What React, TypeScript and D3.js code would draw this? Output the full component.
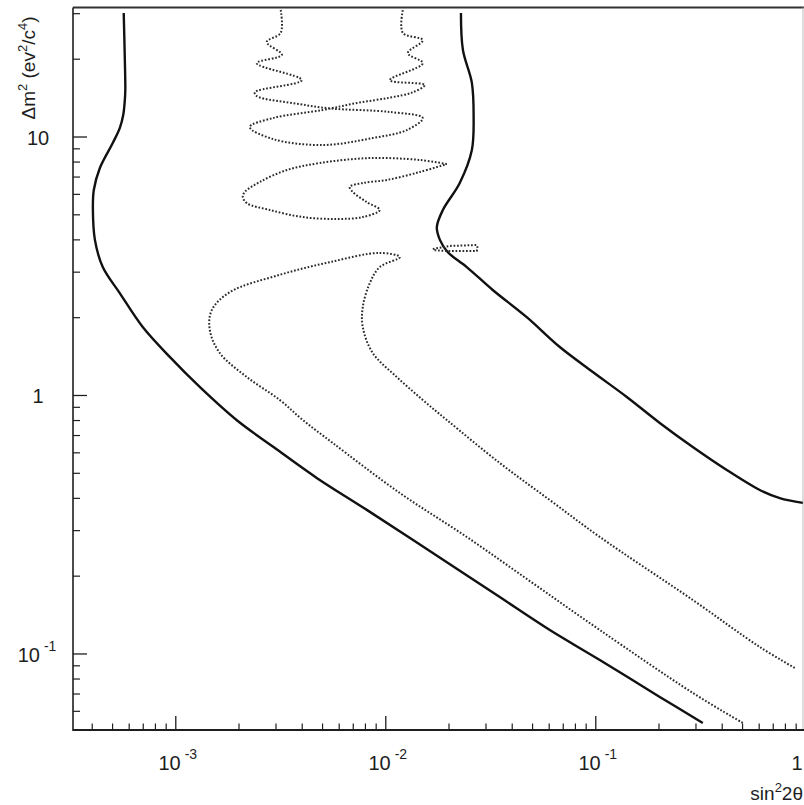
import React from 'react';
import * as d3 from 'd3';

type Pt = [number, number];

// sin^2 2θ (x) versus Δm^2 (y)
const leftSolid: Pt[] = [
  [5.65e-4, 30.2], [5.72e-4, 19.9], [5.75e-4, 15.2], [5.72e-4, 13.9], [5.62e-4, 12.17],
  [5.41e-4, 10.83], [5.01e-4, 9.48], [4.35e-4, 7.59], [4.07e-4, 6.24], [4.03e-4, 5.22],
  [4.12e-4, 4.0], [4.49e-4, 3.14], [5.41e-4, 2.49], [6.96e-4, 1.84], [9.36e-4, 1.41],
  [1.3e-3, 1.079], [1.96e-3, 0.8], [2.92e-3, 0.632], [4.69e-3, 0.48], [8.12e-3, 0.361],
  [1.675e-2, 0.246], [3.49e-2, 0.166], [6.04e-2, 0.1238], [0.1045, 0.0948], [0.2017, 0.0682],
  [0.3232, 0.0541],
];

const rightSolid: Pt[] = [
  [2.28e-2, 30.2], [2.33e-2, 21.7], [2.57e-2, 16.2], [2.62e-2, 11.95], [2.57e-2, 8.91],
  [2.25e-2, 6.64], [1.87e-2, 5.22], [1.75e-2, 4.48], [1.81e-2, 4.0], [1.97e-2, 3.59],
  [2.43e-2, 3.14], [3.23e-2, 2.56], [4.69e-2, 2.01], [6.74e-2, 1.54], [9.68e-2, 1.233],
  [0.1405, 0.987], [0.2017, 0.783], [0.2896, 0.632], [0.4205, 0.515], [0.604, 0.431],
  [0.752, 0.401], [0.968, 0.384],
];

const dottedZigzag: Pt[] = [
  [3.16e-3, 31], [3.16e-3, 25.3], [2.71e-3, 23.3], [3.2e-3, 20.8], [2.43e-3, 19.3],
  [3.98e-3, 16.6], [2.38e-3, 14.9], [2.43e-3, 14.4], [3.9e-3, 13.4], [5.41e-3, 12.9],
  [1.045e-2, 12.5], [1.5e-2, 11.84], [1.26e-2, 10.64], [8.67e-3, 9.91], [5.01e-3, 9.31],
  [2.9e-3, 9.82], [2.25e-3, 10.93], [2.9e-3, 11.84], [5.01e-3, 12.72], [7.28e-3, 13.54],
  [1.045e-2, 14.2], [1.345e-2, 14.9], [1.533e-2, 15.9], [1.045e-2, 16.6], [1.5e-2, 19.3],
  [1.273e-2, 21.1], [1.5e-2, 23.7], [1.205e-2, 25.3], [1.205e-2, 31],
];

const dottedLobe: Pt[] = [
  [1.952e-2, 7.86], [1.452e-2, 8.15], [8.39e-3, 8.29], [4.85e-3, 7.93], [3.378e-3, 7.45],
  [2.512e-3, 6.7], [2.131e-3, 6.13], [2.085e-3, 5.86], [2.178e-3, 5.55], [2.803e-3, 5.22],
  [4.025e-3, 4.9], [5.85e-3, 4.82], [7.77e-3, 4.9], [9.36e-3, 5.22], [8.12e-3, 5.6],
  [6.96e-3, 6.13], [6.74e-3, 6.41], [7.77e-3, 6.64], [1.011e-2, 6.82], [1.452e-2, 7.32],
  [1.952e-2, 7.86],
];

const dottedOuter: Pt[] = [
  [0.501, 0.0541], [0.2896, 0.0707], [0.1045, 0.1238], [5.01e-2, 0.188], [2.43e-2, 0.2836],
  [1.166e-2, 0.4196], [5.59e-3, 0.655], [4.025e-3, 0.804], [3.127e-3, 0.961], [2.178e-3, 1.179],
  [1.62e-3, 1.46], [1.452e-3, 1.792], [1.484e-3, 2.14], [1.807e-3, 2.51], [3.127e-3, 2.93],
  [5.41e-3, 3.28], [9.36e-3, 3.56], [1.166e-2, 3.43], [9.36e-3, 3.14], [8.39e-3, 2.72],
  [7.77e-3, 2.2], [7.77e-3, 1.84], [8.67e-3, 1.46], [1.128e-2, 1.179], [1.5e-2, 0.961],
  [1.952e-2, 0.804], [3.49e-2, 0.548], [6.04e-2, 0.394], [0.1045, 0.2836], [0.2896, 0.1618],
  [0.604, 0.1064], [0.886, 0.0883],
];

const dottedSliver: Pt[] = [
  [1.675e-2, 3.69], [2.017e-2, 3.79], [2.71e-2, 3.82], [2.74e-2, 3.72], [2.71e-2, 3.62],
  [2.017e-2, 3.62], [1.675e-2, 3.65],
];

const xMajorTicks = [1e-3, 1e-2, 1e-1, 1];
const xMajorLabels = [['10', '-3'], ['10', '-2'], ['10', '-1'], ['1', '']];
const yMajorTicks = [0.1, 1, 10];
const yMajorLabels = [['10', '-1'], ['1', ''], ['10', '']];

const xDomain: [number, number] = [3.24e-4, 0.97];
const yDomain: [number, number] = [0.0508, 31.7];

const FONT = "'Liberation Sans', Arial, Helvetica, sans-serif";
const INK = '#1e1e1e';

export default function App() {
  const left = 73, right = 803, top = 7.5, bottom = 730;
  const x = d3.scaleLog().domain(xDomain).range([left, right]);
  const y = d3.scaleLog().domain(yDomain).range([bottom, top]);

  const smooth = d3.line<Pt>().x(d => x(d[0])).y(d => y(d[1])).curve(d3.curveCatmullRom.alpha(0.5));
  const linear = d3.line<Pt>().x(d => x(d[0])).y(d => y(d[1])).curve(d3.curveLinear);

  const isMajor = (v: number) => Math.abs(Math.log10(v) - Math.round(Math.log10(v))) < 1e-6;
  const xTicks = x.ticks(40).filter(v => !isMajor(v));
  const yTicks = y.ticks(40).filter(v => !isMajor(v));

  const dotted = { fill: 'none', stroke: '#2a2a2a', strokeWidth: 2, strokeDasharray: '1.7 1.8' };

  return (
    <svg width={804} height={805} style={{ position: 'absolute', left: 0, top: 0, background: '#fff' }}
      fontFamily={FONT}>
      <defs>
        <clipPath id="plot">
          <rect x={left} y={top} width={right - left} height={bottom - top} />
        </clipPath>
      </defs>
      <rect x={0} y={0} width={804} height={805} fill="#fff" />

      {/* frame */}
      <line x1={left} x2={804} y1={top} y2={top} stroke="#333" strokeWidth={2} />
      <line x1={right} x2={right} y1={top} y2={bottom} stroke="#bbb" strokeWidth={1} />
      <line x1={left} x2={left} y1={top} y2={bottom + 1} stroke={INK} strokeWidth={1.6} />
      <line x1={left} x2={804} y1={bottom} y2={bottom} stroke={INK} strokeWidth={1.8} />

      {/* x ticks */}
      {xTicks.map(v => (
        <line key={'xm' + v} x1={x(v)} x2={x(v)} y1={bottom} y2={bottom - 6.5} stroke={INK} strokeWidth={1.2} />
      ))}
      {xMajorTicks.map(v => (
        <line key={'xM' + v} x1={x(v)} x2={x(v)} y1={bottom} y2={bottom - 14} stroke={INK} strokeWidth={1.3} />
      ))}
      {xMajorTicks.map((v, i) => (
        <text key={'xl' + v} x={Math.min(x(v) + 2, 797)} y={770} textAnchor="middle" fontSize={20} fill={INK}>
          {xMajorLabels[i][0]}
          {xMajorLabels[i][1] && (
            <tspan dx={4} dy={-11} fontSize={14}>{xMajorLabels[i][1]}</tspan>
          )}
        </text>
      ))}

      {/* y ticks */}
      {yTicks.map(v => (
        <line key={'ym' + v} x1={left} x2={left + 7} y1={y(v)} y2={y(v)} stroke={INK} strokeWidth={1.2} />
      ))}
      {yMajorTicks.map(v => (
        <line key={'yM' + v} x1={left} x2={left + 14} y1={y(v)} y2={y(v)} stroke={INK} strokeWidth={1.3} />
      ))}
      {yMajorTicks.map((v, i) => (
        <text key={'yl' + v} x={yMajorLabels[i][1] ? 37 : 38} y={y(v) + 8} textAnchor="middle" fontSize={20} fill={INK}>
          {yMajorLabels[i][0]}
          {yMajorLabels[i][1] && (
            <tspan dx={4} dy={-11} fontSize={14}>{yMajorLabels[i][1]}</tspan>
          )}
        </text>
      ))}

      {/* axis titles */}
      <text x={803} y={800} textAnchor="end" fontSize={19} fill={INK}>
        sin<tspan dy={-8} fontSize={13}>2</tspan><tspan dy={8}>2θ</tspan>
      </text>
      <text transform="translate(35,68) rotate(-90)" textAnchor="middle" fontSize={19} fill={INK}>
        Δm<tspan dy={-8} fontSize={13}>2</tspan><tspan dy={8}> (ev</tspan>
        <tspan dy={-8} fontSize={13}>2</tspan><tspan dy={8}>/c</tspan>
        <tspan dy={-8} fontSize={13}>4</tspan><tspan dy={8}>)</tspan>
      </text>

      {/* curves */}
      <g clipPath="url(#plot)">
        <path d={smooth(leftSolid) || ''} fill="none" stroke="#111" strokeWidth={2.4} />
        <path d={smooth(rightSolid) || ''} fill="none" stroke="#111" strokeWidth={2.4} />
        <path d={smooth(dottedZigzag) || ''} {...dotted} />
        <path d={smooth(dottedLobe) || ''} {...dotted} />
        <path d={smooth(dottedOuter) || ''} {...dotted} />
        <path d={linear(dottedSliver) || ''} {...dotted} />
      </g>
    </svg>
  );
}
